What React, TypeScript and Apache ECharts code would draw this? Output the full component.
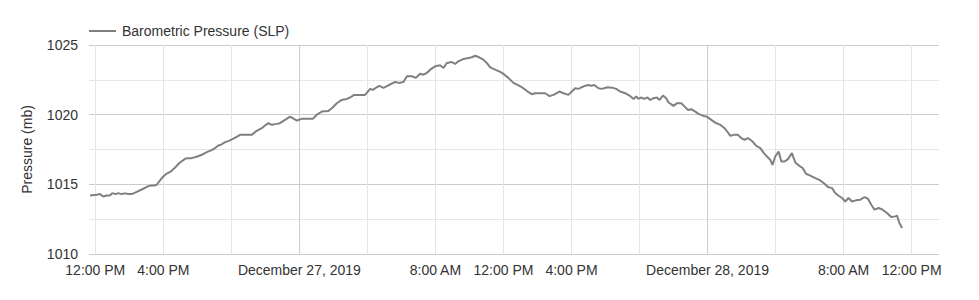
import React, { useEffect, useRef } from "react";
import * as echarts from "echarts";

// hours after 2019-12-26 12:00 (UTC)
const hoursFromStart = [
  -0.31, 0.08, 0.28, 0.47, 0.67, 0.86, 1.0, 1.2, 1.35, 1.55, 1.75, 1.94, 2.14, 2.34, 2.73, 3.12, 3.32, 3.51, 3.61, 3.91,
  4.16, 4.45, 4.69, 4.98, 5.28, 5.47, 5.67, 5.96, 6.26, 6.55, 6.85, 7.04, 7.24, 7.39, 7.63, 7.86, 8.18,
  8.51, 8.81, 9.2, 9.49, 9.79, 9.98, 10.18, 10.38, 10.67, 10.86, 11.16, 11.45, 11.61, 11.85, 12.14, 12.44, 12.79,
  13.06, 13.32, 13.71, 13.91, 14.2, 14.49, 14.79, 14.98, 15.22, 15.57, 15.86, 16.16, 16.32, 16.55, 16.71,
  16.94, 17.24, 17.63, 17.86, 18.12, 18.32, 18.61, 18.85, 19.1, 19.29, 19.49, 19.69, 19.98, 20.28, 20.47, 20.67,
  20.96, 21.16, 21.35, 21.65, 21.94, 22.14, 22.34, 22.57, 22.82, 23.02, 23.22, 23.51, 23.81, 24.06, 24.29, 24.59,
  24.79, 25.08, 25.28,
  25.47, 25.67, 25.86, 26.16, 26.45, 26.71, 26.94, 27.29, 27.53, 27.82, 28.02, 28.22, 28.41, 28.61, 28.81, 29.0,
  29.16, 29.34, 29.59, 29.79, 30.12, 30.38, 30.63, 30.86, 31.16, 31.41, 31.65, 31.81, 31.94, 32.08, 32.28, 32.47,
  32.63, 32.82, 33.02, 33.18, 33.38, 33.57,
  33.71, 34.0, 34.2, 34.45, 34.69, 34.85, 35.04, 35.28, 35.47, 35.76, 35.96, 36.16, 36.45, 36.75, 37.0, 37.2, 37.34,
  37.53, 37.79, 37.98, 38.18, 38.38, 38.65, 38.85, 39.1, 39.29, 39.49, 39.69, 39.82, 39.98, 40.18, 40.34, 40.53,
  40.73, 40.96, 41.16, 41.39, 41.59, 41.79, 42.04,
  42.34, 42.63, 42.88, 43.08, 43.32, 43.51, 43.71, 43.91, 44.1, 44.29, 44.49, 44.73, 44.98, 45.24, 45.44, 45.63,
  45.82, 46.06, 46.29, 46.55, 46.8, 47.04, 47.14, 47.28, 47.44,
];

const pressure = [
  1014.2, 1014.25, 1014.3, 1014.13, 1014.2, 1014.2, 1014.37, 1014.3, 1014.37, 1014.3, 1014.35, 1014.3, 1014.3, 1014.4,
  1014.63, 1014.87, 1014.92, 1014.92, 1014.97, 1015.45, 1015.74, 1015.93, 1016.21, 1016.57, 1016.83, 1016.88, 1016.88,
  1016.98, 1017.12, 1017.31, 1017.46, 1017.6, 1017.79, 1017.84, 1018.03, 1018.12, 1018.32,
  1018.55, 1018.55, 1018.55, 1018.84, 1019.03, 1019.22, 1019.39, 1019.27, 1019.34, 1019.39, 1019.63, 1019.86, 1019.75,
  1019.58, 1019.7, 1019.7, 1019.7, 1020.03, 1020.22, 1020.27, 1020.46, 1020.82, 1021.06, 1021.13, 1021.23, 1021.42,
  1021.42, 1021.42, 1021.85, 1021.78, 1021.97, 1022.06,
  1021.92, 1022.11, 1022.35, 1022.28, 1022.35, 1022.76, 1022.76, 1022.64, 1022.94, 1022.87, 1022.99, 1023.23, 1023.47,
  1023.55, 1023.35, 1023.71, 1023.78, 1023.64, 1023.83, 1024.0, 1024.07, 1024.12, 1024.23, 1024.12, 1023.95, 1023.71,
  1023.4, 1023.23, 1023.07, 1022.87, 1022.64, 1022.28, 1022.16, 1021.97, 1021.8,
  1021.61, 1021.47, 1021.54, 1021.54, 1021.54, 1021.33, 1021.42, 1021.66, 1021.54, 1021.42, 1021.66, 1021.9, 1021.85,
  1021.97, 1022.08, 1022.13, 1022.08, 1022.13, 1021.9, 1021.85, 1021.97, 1021.94, 1021.85, 1021.66, 1021.54, 1021.37,
  1021.13, 1021.3, 1021.13, 1021.23, 1021.13, 1021.23, 1021.06, 1021.18, 1021.23, 1021.06, 1021.37, 1021.18,
  1020.87, 1020.63, 1020.82, 1020.82, 1020.54, 1020.34, 1020.39, 1020.22, 1020.06, 1019.91, 1019.86, 1019.68, 1019.43,
  1019.27, 1019.03, 1018.72, 1018.48, 1018.55, 1018.55, 1018.32, 1018.2, 1018.32, 1018.07, 1017.77, 1017.6, 1017.28,
  1017.0, 1016.76, 1016.4, 1017.0, 1017.36, 1016.64, 1016.64, 1016.81, 1017.24, 1016.57, 1016.33, 1016.17, 1015.76,
  1015.62,
  1015.45, 1015.28, 1015.04, 1014.81, 1014.73, 1014.38, 1014.18, 1014.02, 1013.77, 1014.02, 1013.77, 1013.85, 1013.9,
  1014.09, 1013.95, 1013.54, 1013.18, 1013.3, 1013.18, 1012.94, 1012.66, 1012.7, 1012.75, 1012.23, 1011.87,
];

const seriesName = "Barometric Pressure (SLP)";
const yAxisName = "Pressure (mb)";
const yMin = 1010;
const yMax = 1025;
const yStep = 5;
const startUTC = Date.UTC(2019, 11, 26, 12);
const axisStartHours = -0.37;
const axisEndHours = 49.61;
const tickHours = [0, 4, 8, 12, 16, 20, 24, 28, 32, 36, 40, 44, 48];
const hiddenTickHours = [8, 16, 32, 40];
const monthNames = ["January", "February", "March", "April", "May", "June", "July", "August", "September", "October", "November", "December"];

const H = 3600 * 1000;

function formatTick(v: number): string {
  const h = Math.round((v - startUTC) / H);
  if (hiddenTickHours.indexOf(h) >= 0) return "";
  const d = new Date(v);
  const hr = d.getUTCHours();
  const mn = d.getUTCMinutes();
  if (hr === 0 && mn === 0) {
    return `${monthNames[d.getUTCMonth()]} ${d.getUTCDate()}, ${d.getUTCFullYear()}`;
  }
  const h12 = hr % 12 === 0 ? 12 : hr % 12;
  const ampm = hr < 12 ? "AM" : "PM";
  return `${h12}:${String(mn).padStart(2, "0")} ${ampm}`;
}

export default function App() {
  const ref = useRef<HTMLDivElement>(null);
  useEffect(() => {
    document.body.style.margin = "0";
    if (!ref.current) return;
    const chart = echarts.init(ref.current, undefined, { renderer: "svg" });
    const data = hoursFromStart.map((h, i) => [startUTC + h * H, pressure[i]]);
    const ticks = tickHours.map((h) => startUTC + h * H);
    const font = "'Liberation Sans', Arial, sans-serif";
    chart.setOption({
      animation: false,
      textStyle: { fontFamily: font },
      legend: {
        show: true,
        left: 89,
        top: 24,
        padding: 0,
        icon: "rect",
        itemWidth: 27,
        itemHeight: 2,
        itemGap: 10,
        data: [seriesName],
        textStyle: { color: "#333", fontSize: 14, fontFamily: font, padding: [0, 0, 0, 1] },
      },
      grid: { left: 89, right: 40, top: 45, bottom: 46, containLabel: false },
      xAxis: {
        type: "value",
        min: startUTC + axisStartHours * H,
        max: startUTC + axisEndHours * H,
        axisLine: { show: false },
        axisTick: { show: false, customValues: ticks },
        axisLabel: {
          customValues: ticks,
          formatter: (v: number) => formatTick(v),
          color: "#333",
          fontSize: 14,
          margin: 9,
          fontFamily: font,
        },
        splitLine: {
          show: true,
          lineStyle: { color: ["#e6e6e6", "#e6e6e6", "#e6e6e6", "#cccccc", "#e6e6e6", "#e6e6e6"], width: 1 },
        },
      },
      yAxis: {
        type: "value",
        min: yMin,
        max: yMax,
        interval: yStep,
        name: yAxisName,
        nameLocation: "middle",
        nameGap: 55,
        nameTextStyle: { color: "#333", fontSize: 14, fontFamily: font },
        axisLine: { show: false },
        axisTick: { show: false },
        minorTick: { show: false, splitNumber: 2 },
        minorSplitLine: { show: true, lineStyle: { color: "#e6e6e6", width: 1 } },
        splitLine: { show: true, lineStyle: { color: "#cccccc", width: 1 } },
        axisLabel: {
          color: "#333",
          fontSize: 14,
          margin: 11,
          fontFamily: font,
          formatter: (v: number) => String(v),
        },
      },
      series: [
        {
          name: seriesName,
          type: "line",
          data,
          showSymbol: false,
          symbol: "none",
          lineStyle: { color: "#808080", width: 2 },
          itemStyle: { color: "#808080" },
        },
      ],
    });
    return () => chart.dispose();
  }, []);
  return <div ref={ref} style={{ width: 979, height: 300 }} />;
}
